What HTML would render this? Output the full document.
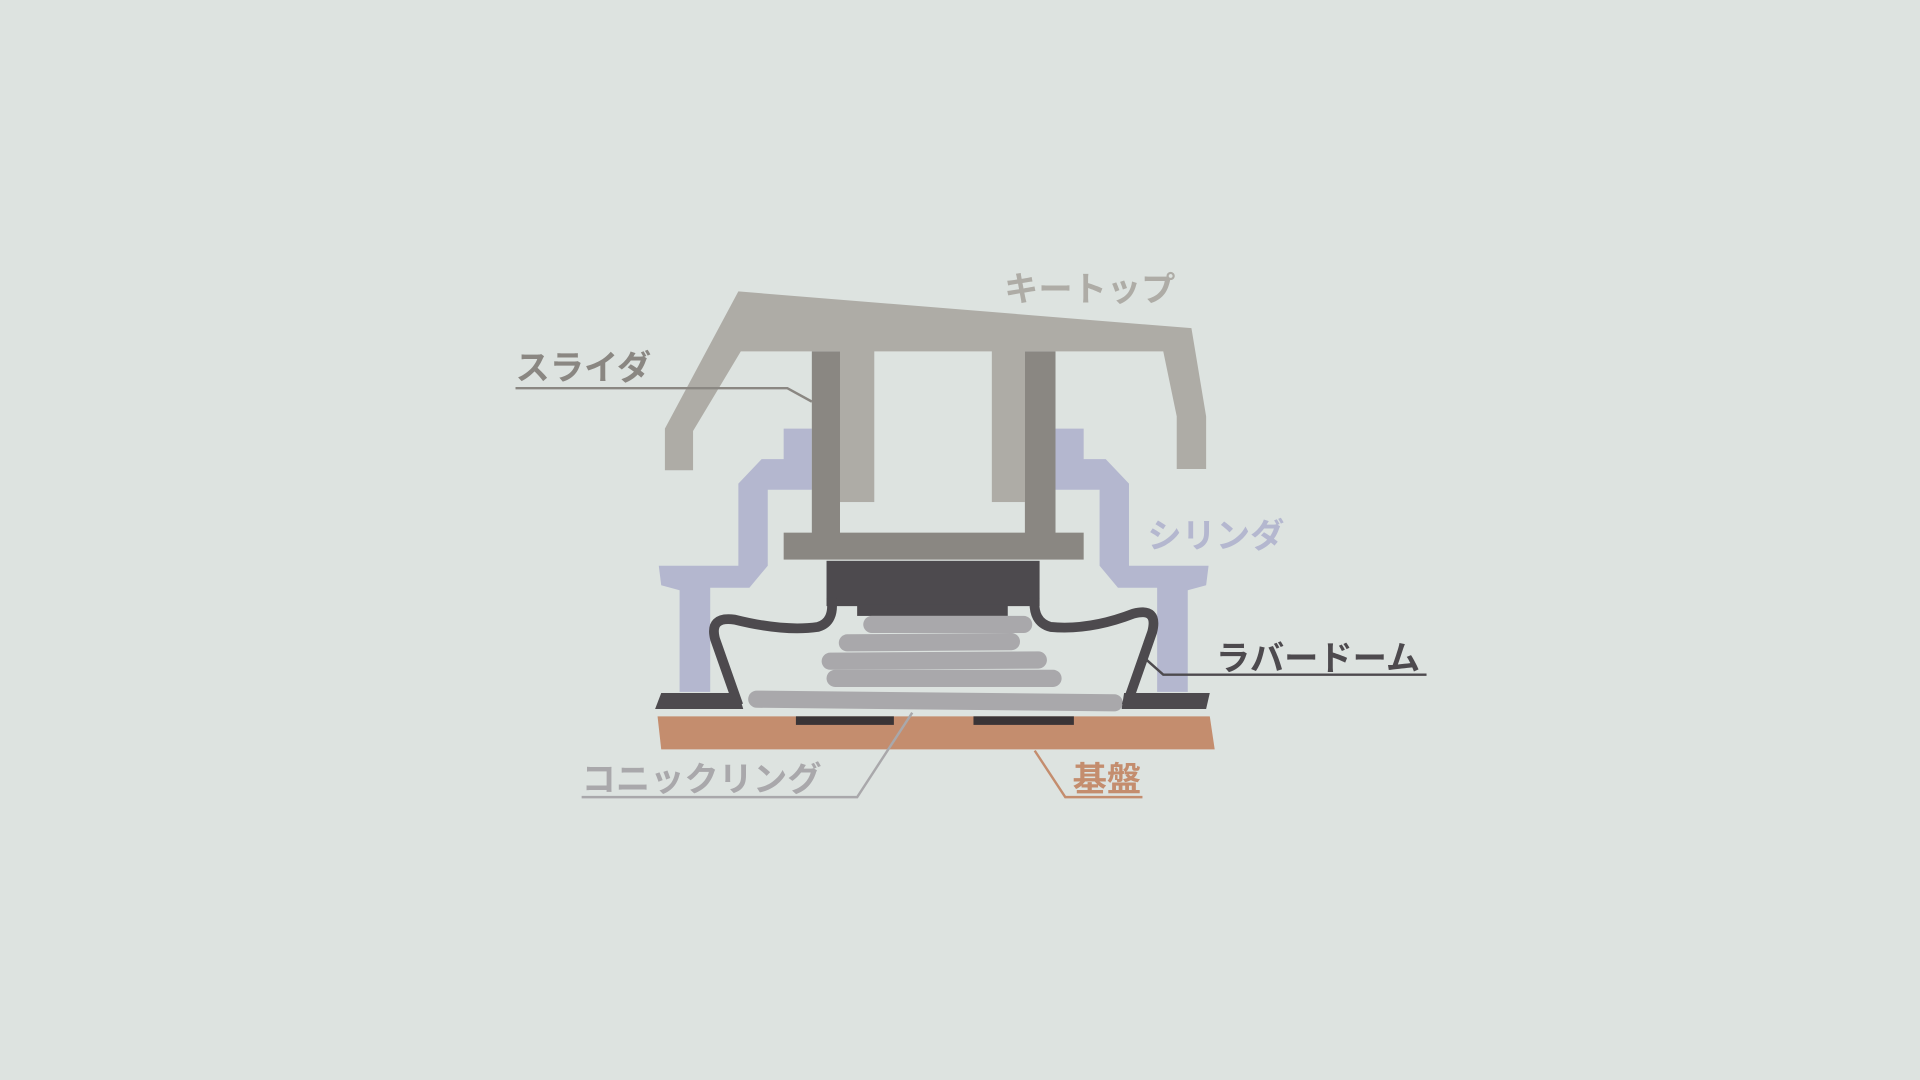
<!DOCTYPE html>
<html><head><meta charset="utf-8"><style>
html,body{margin:0;padding:0;background:#dde3e0;}
svg{display:block;}
text{font-family:"Liberation Sans","Noto Sans CJK JP",sans-serif;font-weight:bold;font-size:28px;}
</style></head><body>
<svg width="1920" height="1080" viewBox="0 0 1568 882" xmlns="http://www.w3.org/2000/svg">
<rect width="1568" height="882" fill="#dde3e0"/>
<g fill="#b4b7cf">
<polygon points="640,350 663,350 663,400 627,400 627,462 612,480 580,480 580,565 555,565 555,482 540,478 538,462 603,462 603,395 622,375 640,375"/>
<polygon points="885,350 862,350 862,400 898,400 898,462 913,480 945,480 945,565 970,565 970,482 985,478 987,462 922,462 922,395 903,375 885,375"/>
</g>
<g fill="#aeaca6">
<polygon points="603,238 973,268 985,340 985,383 961,383 961,340 950,287 605,287 566,352 566,384 543,384 543,350"/>
<rect x="686" y="286" width="28" height="124"/>
<rect x="810" y="286" width="27" height="124"/>
</g>
<g fill="#8a8782">
<rect x="663" y="287" width="23" height="150"/>
<rect x="837" y="287" width="25" height="150"/>
<rect x="640" y="435" width="245" height="22"/>
</g>
<g fill="#4d4a4e">
<rect x="675" y="458" width="174" height="37"/>
<rect x="700" y="494" width="123" height="9"/>
</g>
<g stroke="#a9a8ab" stroke-width="14" stroke-linecap="round" fill="none">
<line x1="712" y1="510" x2="836" y2="510"/>
<line x1="692" y1="525" x2="826" y2="524"/>
<line x1="678" y1="540" x2="848" y2="539"/>
<line x1="682" y1="554" x2="860" y2="554"/>
<line x1="618" y1="571" x2="910" y2="574"/>
</g>
<g fill="none" stroke="#4d4a4e" stroke-width="8" stroke-linejoin="round">
<path d="M603,576 L584,522 Q579,503 600,506 Q640,516 668,512 Q682,508 679,488"/>
<path d="M845,488 Q843,508 858,512 Q890,515 926,501 Q946,496 941,516 L920,576"/>
</g>
<g fill="#4d4a4e">
<polygon points="540,566 603,566 607,579 535,579"/>
<polygon points="918,566 988,566 985,579 916,579"/>
</g>
<polygon points="537,585 988,585 992,612 540,612" fill="#c48d6e"/>
<rect x="650" y="585" width="80" height="7" fill="#3a3436"/>
<rect x="795" y="585" width="82" height="7" fill="#3a3436"/>
<g fill="none" stroke-width="2">
<polyline points="421,317 643,317 663,328" stroke="#8a8782"/>
<polyline points="932,535 950,551 1165,551" stroke="#4d4a4e"/>
<polyline points="475,651 700,651 745,582" stroke="#a9a8ab"/>
<polyline points="845,613 870,651 933,651" stroke="#c48d6e"/>
</g>
<text x="820" y="246" fill="#aeaca6">キートップ</text>
<text x="421" y="310" fill="#8a8782">スライダ</text>
<text x="937" y="447" fill="#b4b7cf">シリンダ</text>
<text x="993" y="547" fill="#4d4a4e">ラバードーム</text>
<text x="475" y="646" fill="#a9a8ab">コニックリング</text>
<text x="876" y="646" fill="#c48d6e">基盤</text>
</svg>
</body></html>
